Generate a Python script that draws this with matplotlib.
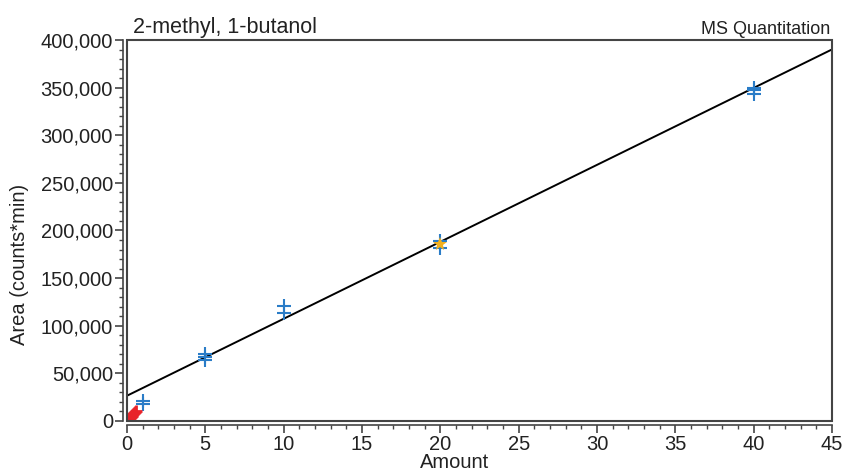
import numpy as np
import matplotlib
matplotlib.use("Agg")
import matplotlib.pyplot as plt
from matplotlib.patches import Rectangle
from matplotlib.ticker import FuncFormatter, MultipleLocator

plt.rcParams['font.family'] = ['Liberation Sans', 'DejaVu Sans']

# calibration standards (amount, area)
std_x = [1, 1, 5, 5, 5, 10, 10, 20, 20, 40, 40, 40]
std_y = [17500, 21000, 64000, 67000, 70000, 113000, 121000,
         182000, 189000, 343000, 347000, 350000]

# check standard
chk_x = [20]
chk_y = [185500]

# low-level samples
low_x = [0.15, 0.2, 0.25, 0.3, 0.35, 0.4, 0.45, 0.5, 0.6]
low_y = [2000, 3000, 4000, 5000, 6000, 7000, 8000, 9000, 10500]

# linear fit
intercept = 26500
slope = 8080

FS = 14.5

fig = plt.figure(figsize=(8.47, 4.70), dpi=100)
ax = fig.add_axes([0.1499, 0.1043, 0.8324, 0.8106])

xf = np.array([0, 45])
ax.plot(xf, intercept + slope * xf, color='black', lw=1.4, zorder=2)

ax.plot(std_x, std_y, ls='none', marker='+', ms=10, mew=1.5,
        color='#2a7cc7', zorder=3)
ax.plot(chk_x, chk_y, ls='none', marker='*', ms=10, mew=0,
        color='#f2b01e', zorder=4)
ax.plot(low_x, low_y, ls='none', marker='+', ms=8, mew=2.0,
        color='#e8232a', zorder=4)

ax.set_xlim(0, 45)
ax.set_ylim(0, 400000)
ax.xaxis.set_major_locator(MultipleLocator(5))
ax.xaxis.set_minor_locator(MultipleLocator(1))
ax.yaxis.set_major_locator(MultipleLocator(50000))
ax.yaxis.set_minor_locator(MultipleLocator(10000))
ax.yaxis.set_major_formatter(FuncFormatter(lambda v, p: f"{int(v):,}"))

for s in ['top', 'right']:
    ax.spines[s].set_visible(False)
for s in ['left', 'bottom']:
    ax.spines[s].set_position(('outward', 3))
    ax.spines[s].set_color('#444444')
    ax.spines[s].set_linewidth(1.2)

ax.add_patch(Rectangle((0, 0), 1, 1, transform=ax.transAxes, fill=False,
                       edgecolor='#444444', lw=1.5, clip_on=False, zorder=5))

ax.tick_params(which='major', direction='out', length=6, width=1.2,
               color='#444444', labelsize=FS, labelcolor='#222222', pad=1)
ax.tick_params(which='minor', direction='out', length=3, width=1.0,
               color='#444444')

ax.set_xlabel('Amount', fontsize=FS, color='#222222')
ax.xaxis.set_label_coords(0.465, -0.083)
ax.set_ylabel('Area (counts*min)', fontsize=FS, color='#222222')
ax.yaxis.set_label_coords(-0.139, 0.41)

ax.text(0.008, 1.006, '2-methyl, 1-butanol', transform=ax.transAxes,
        ha='left', va='bottom', fontsize=15.5, color='#222222')
ax.text(0.997, 1.006, 'MS Quantitation', transform=ax.transAxes,
        ha='right', va='bottom', fontsize=13, color='#222222')

fig.savefig('out.png', dpi=100)
